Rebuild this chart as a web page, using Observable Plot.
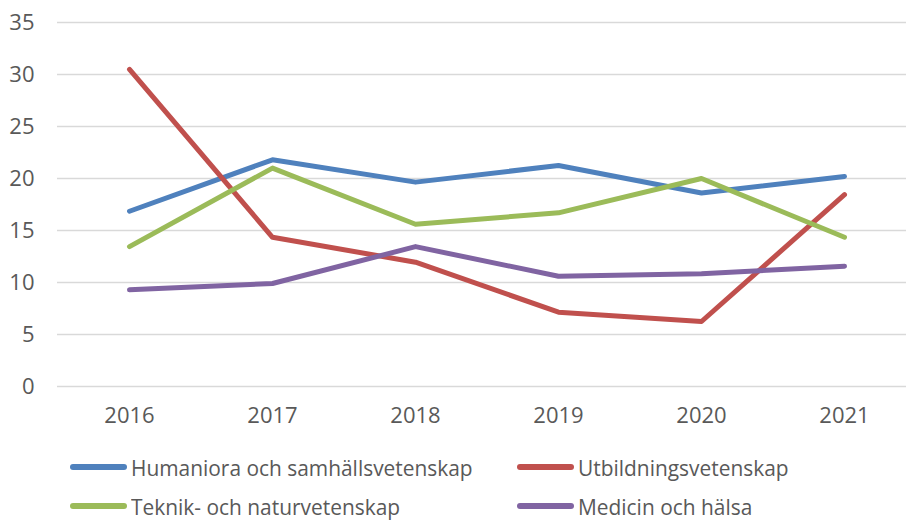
<!DOCTYPE html>
<html>
<head>
<meta charset="utf-8">
<script src="https://cdn.jsdelivr.net/npm/d3@7"></script>
<script src="https://cdn.jsdelivr.net/npm/@observablehq/plot@0.6"></script>
<style>
  html, body { margin: 0; padding: 0; background: #fff; overflow: hidden; }
  #chart { width: 906px; height: 430px; }
  .legend { position: relative; width: 906px; height: 92px; font-family: "Open Sans", "Liberation Sans", sans-serif; color: #595959; font-size: 22px; }
  .item { position: absolute; display: flex; align-items: center; height: 22px; white-space: nowrap; }
  .sw { width: 57px; height: 6px; border-radius: 3px; margin-right: 4px; flex: none; }
  .lab { display: inline-block; transform: scaleX(0.95); transform-origin: left center; white-space: nowrap; line-height: 22px; }
</style>
</head>
<body>
<div id="chart"></div>
<script>
const years = [2016, 2017, 2018, 2019, 2020, 2021];
const seriesNames = ["Humaniora och samhällsvetenskap", "Utbildningsvetenskap", "Teknik- och naturvetenskap", "Medicin och hälsa"];
const colors = ["#4F81BD", "#C0504D", "#9BBB59", "#8064A2"];
const humaniora = [16.85, 21.8, 19.65, 21.25, 18.6, 20.2];
const utbildning = [30.5, 14.35, 11.95, 7.15, 6.25, 18.45];
const teknik = [13.45, 21.0, 15.6, 16.7, 20.0, 14.35];
const medicin = [9.3, 9.9, 13.45, 10.6, 10.85, 11.57];
const yTicks = [0, 5, 10, 15, 20, 25, 30, 35];

const allSeries = [humaniora, utbildning, teknik, medicin];
const data = [];
allSeries.forEach((vals, i) => vals.forEach((v, j) => data.push({series: seriesNames[i], year: years[j], value: v})));

const chart = Plot.plot({
  width: 906,
  height: 430,
  marginLeft: 57,
  marginRight: 0,
  marginTop: 22,
  marginBottom: 44,
  style: { fontFamily: "'Open Sans', 'Liberation Sans', sans-serif", fontSize: "22px", color: "#595959", overflow: "visible" },
  x: { type: "point", domain: years, range: [128, 845], padding: 0, label: null },
  y: { domain: [0, 35], ticks: yTicks, label: null },
  color: { domain: seriesNames, range: colors },
  marks: [
    Plot.gridY(yTicks, { stroke: "#D9D9D9", strokeOpacity: 1, strokeWidth: 1.5 }),
    Plot.axisY(yTicks, { tickSize: 0, tickPadding: 23, fill: "#595959", fontSize: 22, label: null }),
    Plot.axisX(years, { tickSize: 0, tickPadding: 21, fill: "#595959", fontSize: 22, label: null, tickFormat: d => String(d) }),
    Plot.line(data, { x: "year", y: "value", z: "series", stroke: "series", strokeWidth: 5, strokeLinecap: "round", strokeLinejoin: "round" })
  ]
});
document.getElementById("chart").appendChild(chart);

const legend = document.createElement("div");
legend.className = "legend";
const pos = [[70, 37], [517, 37], [70, 76], [517, 76]];
seriesNames.forEach((name, i) => {
  const it = document.createElement("div");
  it.className = "item";
  it.style.left = pos[i][0] + "px";
  it.style.top = (pos[i][1] - 11) + "px";
  it.innerHTML = `<span class="sw" style="background:${colors[i]}"></span><span class="lab">${name}</span>`;
  legend.appendChild(it);
});
document.body.appendChild(legend);
</script>
</body>
</html>
